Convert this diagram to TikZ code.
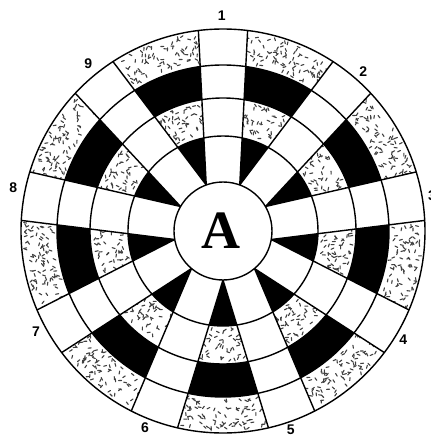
\documentclass[tikz,border=0pt]{standalone}
\usepackage{fontspec}
\setmainfont{Liberation Serif}
\setsansfont{Liberation Sans}
\usetikzlibrary{calc}
\begin{document}
\begin{tikzpicture}[x=1pt,y=1pt,
  wire/.style={line width=1.4pt, black},
  speck/.style={line width=1.1pt, black!75, line cap=round},
  numlabel/.style={font=\sffamily\bfseries\fontsize{14}{14}\selectfont, inner sep=0pt},
  biglabel/.style={font=\bfseries\fontsize{54}{54}\selectfont, inner sep=0pt}]
\useasboundingbox (-223,-206) rectangle (208,231);
\def\Ra{49}\def\Rb{95}\def\Rc{133}\def\Rd{166}\def\Re{202}
\pgfmathsetseed{7}
% V-shaped sectors: black / stipple / black / stipple
\foreach \a in {30,70,...,350} {
  \coordinate (P) at (\a:\Ra);
  \coordinate (Q1) at (\a-13:\Re);
  \coordinate (Q2) at (\a+13:\Re);
  \begin{scope}
    \clip (P) -- ($(P)!1.4!(Q1)$) -- ($(P)!1.4!(Q2)$) -- cycle;
    \fill[black,even odd rule] (0,0) circle (\Rb) (0,0) circle (\Ra);
    \fill[black,even odd rule] (0,0) circle (\Rd) (0,0) circle (\Rc);
    \foreach \i in {1,...,70} {
      \pgfmathsetmacro{\ang}{\a-17+34*rnd}
      \pgfmathsetmacro{\rad}{10*sqrt(((\Rb+3)/10)^2+(((\Rc-3)/10)^2-((\Rb+3)/10)^2)*rnd)}
      \pgfmathsetmacro{\ori}{180*rnd}
      \draw[speck] (\ang:\rad) ++(\ori:1.5) -- ++(\ori+180:3);
    }
    \foreach \i in {1,...,105} {
      \pgfmathsetmacro{\ang}{\a-17+34*rnd}
      \pgfmathsetmacro{\rad}{10*sqrt(((\Rd+3)/10)^2+(((\Re-3)/10)^2-((\Rd+3)/10)^2)*rnd)}
      \pgfmathsetmacro{\ori}{180*rnd}
      \draw[speck] (\ang:\rad) ++(\ori:1.5) -- ++(\ori+180:3);
    }
  \end{scope}
}
% spokes
\foreach \a in {30,70,...,350} {
  \draw[wire] (\a:\Ra) -- (\a-13:\Re);
  \draw[wire] (\a:\Ra) -- (\a+13:\Re);
}
% rings
\foreach \r in {\Ra,\Rb,\Rc,\Rd,\Re} {
  \draw[wire] (0,0) circle (\r);
}
% labels
\node[biglabel] (A) at (-2,0) {A};
\node[numlabel] (n1) at (-1.3,215) {1};
\node[numlabel] (n2) at (140.3,159.3) {2};
\node[numlabel] (n3) at (209,35) {3};
\node[numlabel] (n4) at (180.3,-108.3) {4};
\node[numlabel] (n5) at (67.7,-198.5) {5};
\node[numlabel] (n6) at (-78,-196.3) {6};
\node[numlabel] (n7) at (-187,-100.7) {7};
\node[numlabel] (n8) at (-209.7,43.7) {8};
\node[numlabel] (n9) at (-134.7,167) {9};
\end{tikzpicture}
\end{document}
